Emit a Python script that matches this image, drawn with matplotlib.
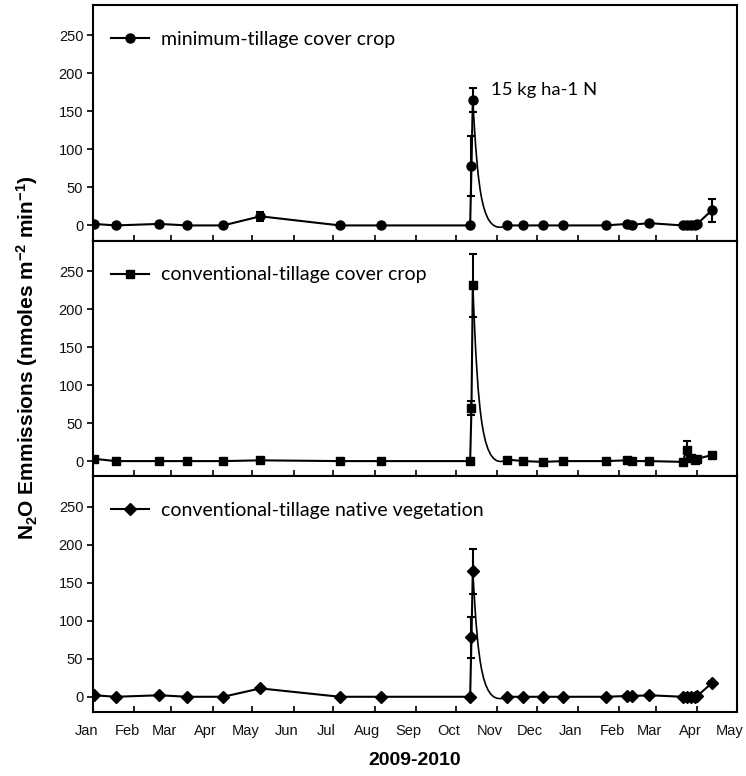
import datetime as dt
import matplotlib
matplotlib.use("Agg")
import matplotlib.pyplot as plt
import matplotlib.dates as mdates
from matplotlib.path import Path
from matplotlib.patches import PathPatch
from matplotlib.transforms import ScaledTranslation

plt.rcParams["font.family"] = "Liberation Sans"
plt.rcParams["mathtext.fontset"] = "custom"
plt.rcParams["mathtext.bf"] = "Liberation Sans:bold"
plt.rcParams["mathtext.rm"] = "Liberation Sans:bold"
plt.rcParams["mathtext.default"] = "bf"

# sampling dates (2009-2010)
dates = ["2009-01-02", "2009-01-18", "2009-02-20", "2009-03-13", "2009-04-09",
         "2009-05-07", "2009-07-06", "2009-08-06", "2009-10-12", "2009-10-13",
         "2009-10-14", "2009-11-09", "2009-11-21", "2009-12-06", "2009-12-21",
         "2010-01-22", "2010-02-07", "2010-02-11", "2010-02-24", "2010-03-21",
         "2010-03-24", "2010-03-27", "2010-03-30", "2010-04-01", "2010-04-12"]

# N2O emissions (nmoles m-2 min-1)
mt_cc = [2, 0, 2, 0, 0, 12, 0, 0, 0, 78, 165, 0, 0, 0, 0,
         0, 2, 1, 3, 0, 1, 0, 1, 2, 20]
mt_cc_err = [1, 0, 1, 0, 0, 6, 0, 0, 0, 39, 16, 0, 0, 0, 0,
             0, 1, 1, 1, 0, 1, 0, 1, 1, 15]
ct_cc = [3, 0, 0, 0, 0, 1, 0, 0, 0, 70, 231, 2, 0, -1, 0,
         0, 1, 0, 0, -1, 14, 4, 2, 3, 8]
ct_cc_err = [1, 0, 0, 0, 0, 1, 0, 0, 0, 9, 41, 1, 0, 0, 0,
             0, 1, 0, 0, 0, 12, 2, 1, 1, 1]
ct_nv = [2, 0, 2, 0, 0, 11, 0, 0, 0, 78, 165, 0, 0, 0, 0,
         0, 1, 1, 2, 0, 0, 0, 0, 1, 18]
ct_nv_err = [1, 0, 1, 0, 0, 2, 0, 0, 0, 27, 30, 0, 0, 0, 0,
             0, 1, 1, 1, 0, 0, 0, 0, 1, 3]

series = [("minimum-tillage cover crop", mt_cc, mt_cc_err, "o"),
          ("conventional-tillage cover crop", ct_cc, ct_cc_err, "s"),
          ("conventional-tillage native vegetation", ct_nv, ct_nv_err, "D")]

x = [mdates.date2num(dt.datetime.strptime(d, "%Y-%m-%d")) for d in dates]
peak = 10  # index of post-fertilisation peak

fig, axes = plt.subplots(3, 1, figsize=(7.46, 7.76), dpi=100, sharex=True)
fig.subplots_adjust(left=0.1247, right=0.988, top=0.9936, bottom=0.0825, hspace=0)

for ax, (name, y, err, mk) in zip(axes, series):
    ms = 6.5 if mk == "o" else 6
    ax.errorbar(x, y, yerr=err, fmt="none", ecolor="black", elinewidth=1.5,
                capsize=3, capthick=1.5, zorder=3)
    # straight segments, then smoothed decay after the peak
    ax.plot(x[:peak + 1], y[:peak + 1], color="black", lw=1.5, zorder=2)
    ax.plot(x[peak + 1:], y[peak + 1:], color="black", lw=1.5, zorder=2)
    x0, y0 = x[peak], y[peak]
    x1, y1 = x[peak + 1], y[peak + 1]
    verts = [(x0, y0), (x0 + 4, 0.24 * y0), (x0 + 7, -15), (x1, y1)]
    codes = [Path.MOVETO, Path.CURVE4, Path.CURVE4, Path.CURVE4]
    ax.add_patch(PathPatch(Path(verts, codes), fill=False, lw=1.2,
                           edgecolor="black", zorder=2))
    ax.plot(x, y, linestyle="none", marker=mk, ms=ms, color="black", zorder=4)
    # legend entry
    ax.plot([], [], color="black", lw=1.5, marker=mk, ms=ms, label=name)
    ax.legend(loc="upper left", bbox_to_anchor=(0.0, 0.965), frameon=False,
              handlelength=2.0, handletextpad=0.6,
              prop={"family": "Lato", "size": 14})

    ax.set_ylim(-20, 290)
    ax.set_yticks([0, 50, 100, 150, 200, 250])
    ax.tick_params(axis="y", direction="out", length=4, width=1.2,
                   labelsize=10.5, labelcolor="#111111", pad=3)
    ax.tick_params(axis="x", direction="in", length=4, width=1.2,
                   labelsize=10.5, labelcolor="#111111", pad=9)
    for s in ax.spines.values():
        s.set_linewidth(1.5)

axes[0].text(mdates.date2num(dt.datetime(2009, 10, 28)), 178, "15 kg ha-1 N",
             family="Lato", fontsize=13.3, va="center", ha="left")

ax = axes[-1]
ax.set_xlim(mdates.date2num(dt.datetime(2009, 1, 1)),
            mdates.date2num(dt.datetime(2010, 5, 1)))
ax.xaxis.set_major_locator(mdates.MonthLocator())
ax.xaxis.set_major_formatter(mdates.DateFormatter("%b"))
shift = ScaledTranslation(-5 / 72, 0, fig.dpi_scale_trans)
for lbl in ax.get_xticklabels():
    lbl.set_transform(lbl.get_transform() + shift)

fig.text(0.556, 0.0206, "2009-2010", fontsize=14, fontweight="bold",
         ha="center", va="center")
fig.text(0.036, 1 - 358 / 776,
         r"N$_2$O Emmissions (nmoles m$^{-2}$ min$^{-1}$)",
         fontsize=15, fontweight="bold", rotation=90, ha="center", va="center")

fig.savefig("out.png", dpi=100)
